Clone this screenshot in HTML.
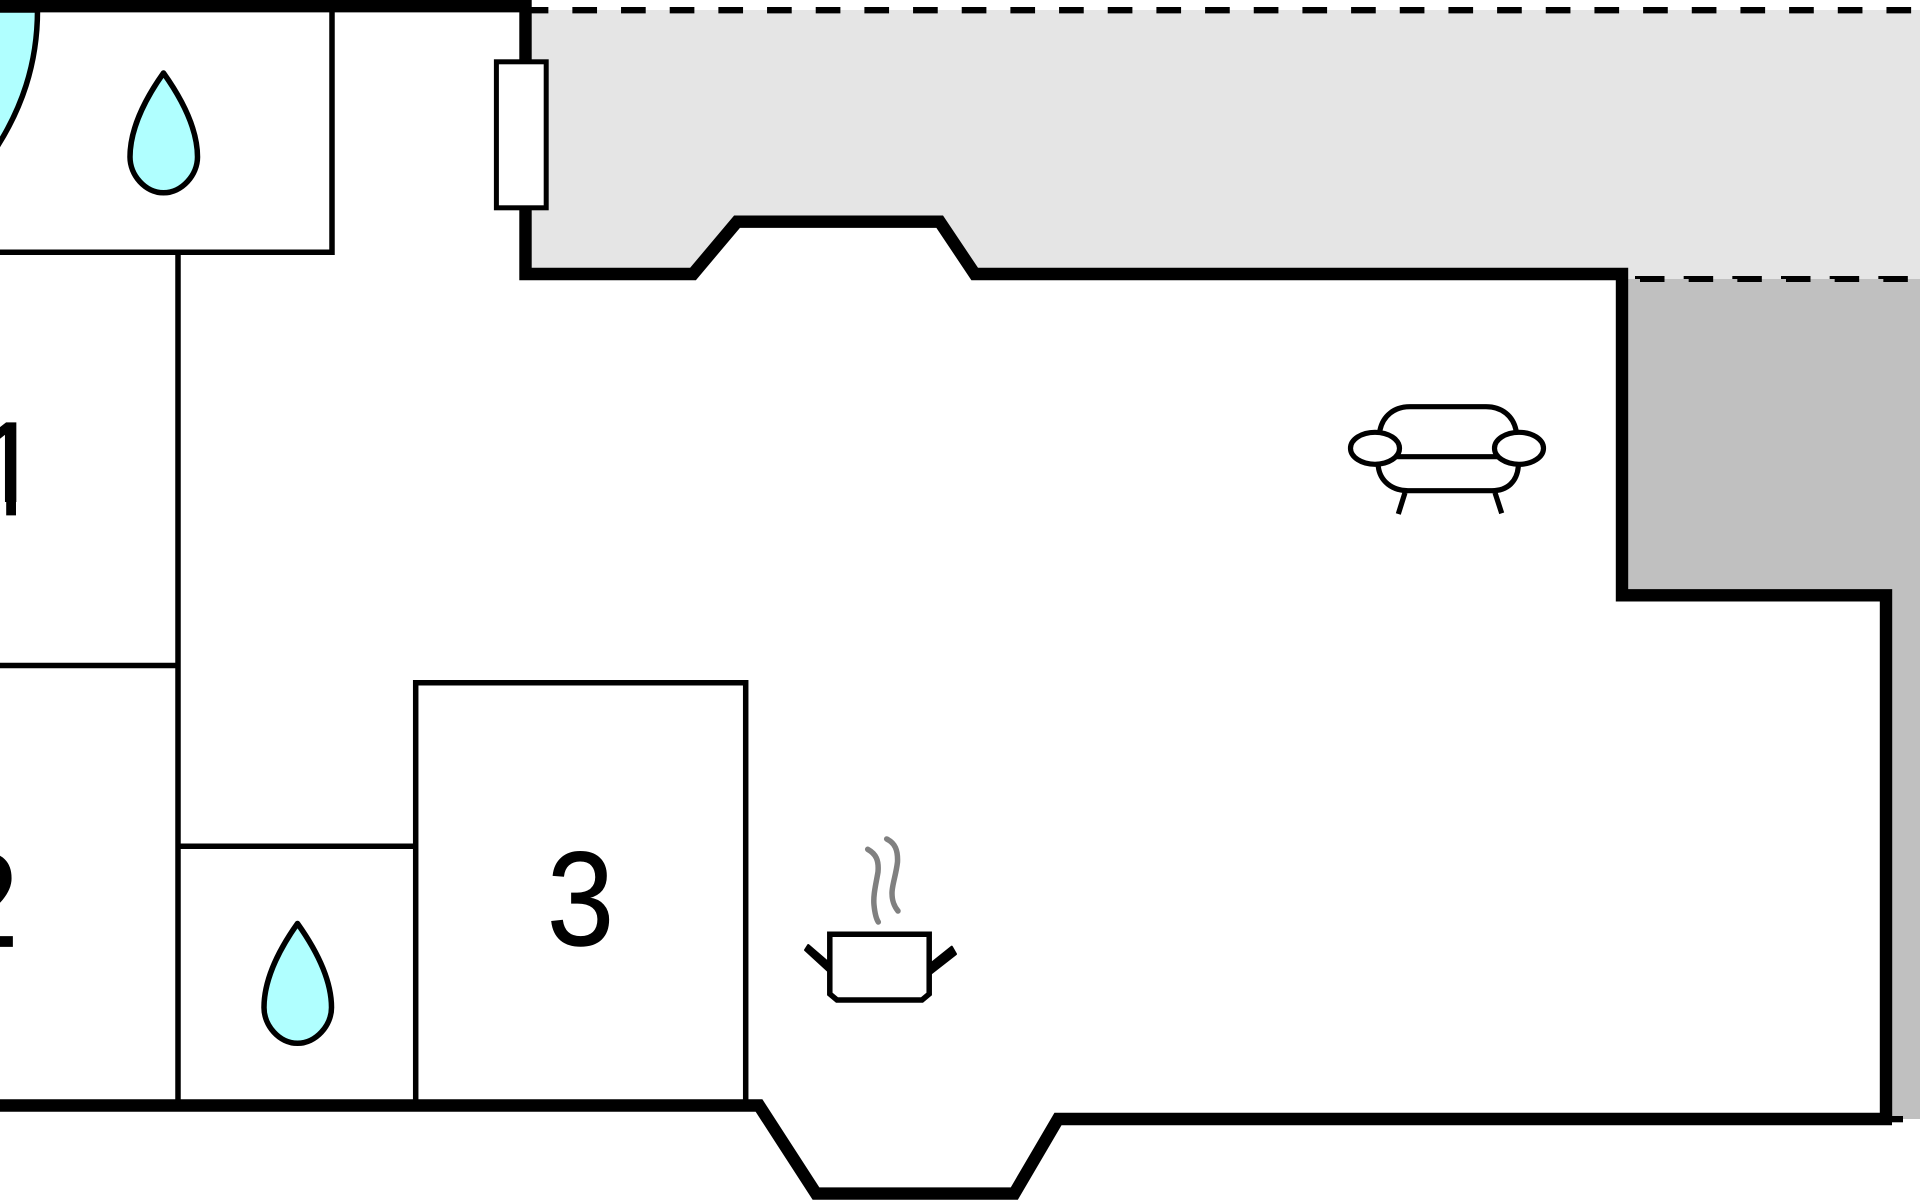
<!DOCTYPE html>
<html><head><meta charset="utf-8"><title>Floor plan</title>
<style>html,body{margin:0;padding:0;background:#fff}svg{display:block}text{font-family:"Liberation Sans",sans-serif;fill:#000}</style></head>
<body>
<svg xmlns="http://www.w3.org/2000/svg" width="1920" height="1200" viewBox="0 0 1920 1200">
<rect width="1920" height="1200" fill="#fff"/>
<rect x="1892" y="600" width="28" height="519" fill="#c0c0c0"/>
<rect x="1622" y="279" width="298" height="322" fill="#c0c0c0"/>
<path d="M525 10H1920V279H1622V274H974.7L939.7 221.7H737L693 274H525Z" fill="#e5e5e5"/>
<g fill="#000">
<path d="M523.7 10.2H1920" stroke="#000" stroke-width="6.3" stroke-dasharray="24.67 24" fill="none"/>
<path d="M1635 276H1664.5V282H1640V279H1635Z"/>
<path d="M1683.67 276H1713.17V282H1688.67V279H1683.67Z"/>
<path d="M1732.33 276H1761.83V282H1737.33V279H1732.33Z"/>
<path d="M1781 276H1810.5V282H1786V279H1781Z"/>
<path d="M1829.67 276H1859.17V282H1834.67V279H1829.67Z"/>
<path d="M1878.33 276H1907.83V282H1883.33V279H1878.33Z"/>
</g>
<!-- door arc -->
<path d="M-5 150C21 110 37.5 65 37.5 10H-5Z" fill="#b0ffff" stroke="#000" stroke-width="5.5"/>
<!-- thin partitions -->
<g fill="none" stroke="#000" stroke-width="5.5">
<path d="M332 6V252.3H0"/>
<path d="M178 252V1105"/>
<path d="M0 665.5H178"/>
<path d="M178 846.3H416"/>
<path d="M415.7 1105V682.7H745.7V1105"/>
</g>
<!-- outer walls -->
<g fill="none" stroke="#000" stroke-width="12.4" stroke-linejoin="miter">
<path d="M0 6.2H525.5"/>
<path d="M525.5 0V274H693L737 221.7H939.7L974.7 274H1622V595.3H1886V1119"/>
<path d="M0 1105.5H759L816 1193.6H1014.3L1058 1119H1892"/>
</g>
<rect x="1885" y="1116" width="18" height="6.3" fill="#000"/>
<!-- window -->
<rect x="496.4" y="61.8" width="49.8" height="146" fill="#fff" stroke="#000" stroke-width="5"/>
<!-- drops -->
<path d="M163.5 73C150 92 130 125 130 157C130 175 145 192.8 163.5 192.8C182 192.8 197.5 175 197.5 157C197.5 125 177 92 163.5 73Z" fill="#b0ffff" stroke="#000" stroke-width="5.5" stroke-linejoin="round"/>
<path d="M297.5 923.5C284 942.5 264 975.5 264 1007.5C264 1025.5 279 1043.3 297.5 1043.3C316 1043.3 331.5 1025.5 331.5 1007.5C331.5 975.5 311 942.5 297.5 923.5Z" fill="#b0ffff" stroke="#000" stroke-width="5.5" stroke-linejoin="round"/>
<!-- numbers -->
<text transform="translate(-25 515) scale(.9 1)" font-size="134" stroke="#000" stroke-width=".8">1</text>
<rect x="-2" y="502" width="8.2" height="15" fill="#fff"/>
<rect x="16" y="502" width="40" height="15" fill="#fff"/>
<text transform="translate(-48.5 946.5) scale(.9 1)" font-size="134" stroke="#000" stroke-width=".8">2</text>
<text transform="translate(547 945) scale(.9 1)" font-size="134" stroke="#000" stroke-width=".8">3</text>
<!-- sofa -->
<g fill="none" stroke="#000" stroke-width="5.2" stroke-linecap="round">
<path d="M1380 430C1383 416 1394 406.7 1410 406.7H1486C1502 406.7 1513 416 1516 430"/>
<path d="M1398 456.7H1497"/>
<path d="M1378.3 466.7C1380 481 1392 490.7 1408 490.7H1492C1508 490.7 1517 481 1518.3 466.7"/>
<path d="M1405 492.7L1398.3 514M1495 492.7L1501.7 513.3" stroke-linecap="butt"/>
<ellipse cx="1375" cy="448.3" rx="24.5" ry="16"/>
<ellipse cx="1519" cy="448.3" rx="24.5" ry="16"/>
</g>
<!-- pot -->
<path d="M805.300 950L808.300 945.300L832.300 966V974.700ZM930 964.300L951.700 947L955.700 954L929.300 974.700Z" fill="#000" stroke="#000" stroke-width="2.500" stroke-linejoin="round"/>
<path d="M829.8 934.2H929.2V994L922 1000H837L829.8 994Z" fill="#fff" stroke="#000" stroke-width="5.5"/>
<g fill="none" stroke="#808080" stroke-width="5.5" stroke-linecap="round">
<path d="M867.7 849.3C876 854 879 860 878 872C876 884 873 895 874 905C875 915 877 920 878.3 922"/>
<path d="M886.7 839C895 843 898 850 897.5 862C896 875 892 885 892 893C892 901 894 906 898 911"/>
</g>
</svg>
</body></html>
